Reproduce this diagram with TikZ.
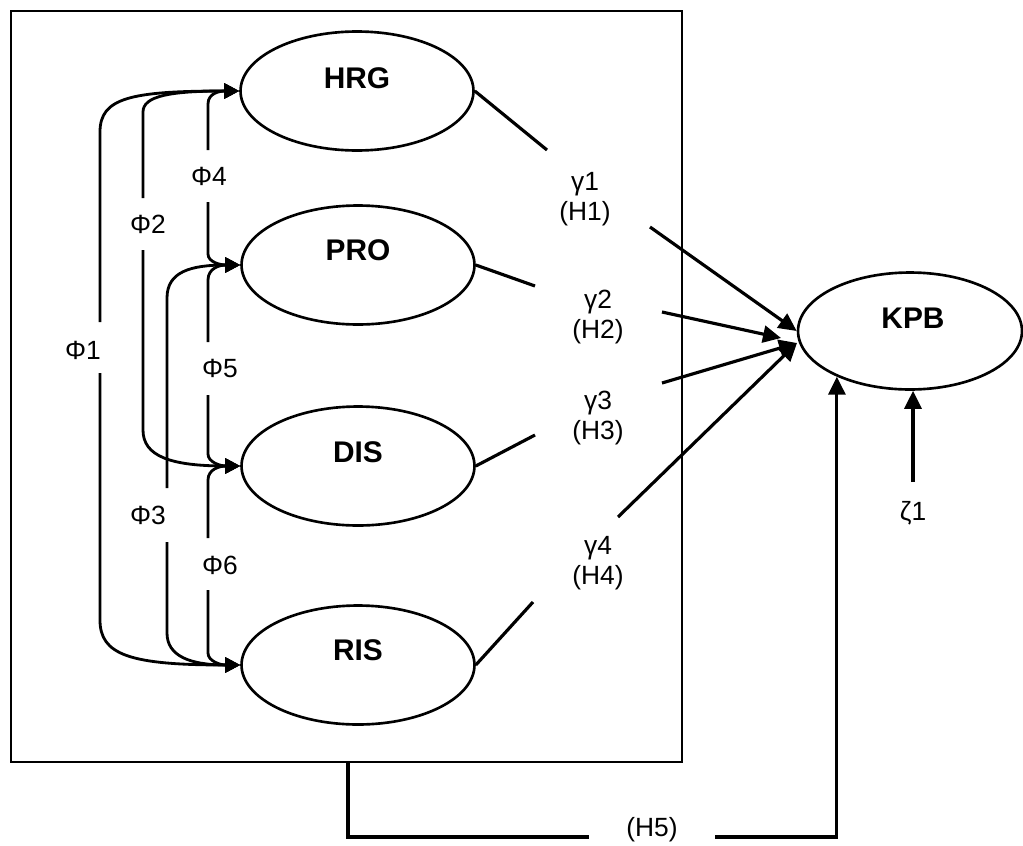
\documentclass[tikz,border=0pt]{standalone}
\usepackage{fontspec}
\setmainfont{Liberation Sans}
\usetikzlibrary{arrows.meta,shapes.geometric}

\tikzset{
	lv/.style={draw, ellipse, line width=1.5pt, minimum width=4.66cm, minimum height=2.38cm, inner sep=0pt},
	lvname/.style={font=\fontsize{17}{19}\selectfont\bfseries, inner sep=1pt},
	coef/.style={font=\fontsize{15}{17}\selectfont, align=center, inner sep=1pt},
	gline/.style={line width=1.8pt},
	garrow/.style={line width=1.8pt, -{Triangle[length=0.36cm,width=0.34cm]}},
	cov/.style={line width=1.6pt, {Triangle[length=0.3cm,width=0.3cm]}-}
}

\begin{document}
\begin{tikzpicture}[x=0.02cm, y=-0.02cm]
	\useasboundingbox (0,0) rectangle (1023,845);
	\draw[line width=1.2pt] (11,11) rectangle (682,762);

	\node[lv] (HRG) at (357,91) {};
	\node[lv] (PRO) at (358,265) {};
	\node[lv] (DIS) at (358,466) {};
	\node[lv] (RIS) at (358,665) {};
	\node[lv, minimum width=4.48cm, minimum height=2.34cm] (KPB) at (910,331) {};
	\node[lvname] (tHRG) at (357,78) {HRG};
	\node[lvname] (tPRO) at (358,250) {PRO};
	\node[lvname] (tDIS) at (358,452) {DIS};
	\node[lvname] (tRIS) at (358,650) {RIS};
	\node[lvname] (tKPB) at (913,318) {KPB};

	\draw[cov] (HRG.west) .. controls (130,91) and (100,98) .. (100,132) -- (100,322);
	\draw[cov] (RIS.west) .. controls (130,665) and (100,655) .. (100,620) -- (100,373);
	\draw[cov] (HRG.west) .. controls (170,91) and (143,96) .. (143,112) -- (143,198);
	\draw[cov] (DIS.west) .. controls (170,466) and (143,456) .. (143,430) -- (143,250);
	\draw[cov] (PRO.west) .. controls (190,265) and (167,272) .. (167,298) -- (167,488);
	\draw[cov] (RIS.west) .. controls (190,665) and (167,656) .. (167,633) -- (167,542);
	\draw[cov] (HRG.west) .. controls (220,91) and (208,93) .. (208,104) -- (208,150);
	\draw[cov] (PRO.west) .. controls (220,265) and (208,262) .. (208,254) -- (208,202);
	\draw[cov] (PRO.west) .. controls (220,265) and (208,268) .. (208,280) -- (208,342);
	\draw[cov] (DIS.west) .. controls (220,466) and (208,462) .. (208,454) -- (208,395);
	\draw[cov] (DIS.west) .. controls (220,466) and (208,469) .. (208,480) -- (208,538);
	\draw[cov] (RIS.west) .. controls (220,665) and (208,661) .. (208,653) -- (208,590);
	\node[coef] (p1) at (83,350) {Φ1};
	\node[coef] (p2) at (148,224) {Φ2};
	\node[coef] (p3) at (148,515) {Φ3};
	\node[coef] (p4) at (209,176) {Φ4};
	\node[coef] (p5) at (220,368) {Φ5};
	\node[coef] (p6) at (220,565) {Φ6};

	\coordinate (g1a) at (547,150);
	\coordinate (g1b) at (650,227);
	\coordinate (g2a) at (535,286);
	\coordinate (g2b) at (662,312);
	\coordinate (g3a) at (535,435);
	\coordinate (g3b) at (662,383);
	\coordinate (g4a) at (533,602);
	\coordinate (g4b) at (618,517);
	\coordinate (k2) at (781,338);
	\coordinate (k34) at (797,343);
	\node[coef] (c1) at (585,199) {γ1\\(H1)};
	\node[coef] (c2) at (598,317) {γ2\\(H2)};
	\node[coef] (c3) at (598,418) {γ3\\(H3)};
	\node[coef] (c4) at (598,563) {γ4\\(H4)};
	\draw[gline] (HRG.east) -- (g1a);
	\draw[gline] (PRO.east) -- (g2a);
	\draw[gline] (DIS.east) -- (g3a);
	\draw[gline] (RIS.east) -- (g4a);
	\draw[garrow] (g1b) -- (KPB.west);
	\draw[garrow] (g2b) -- (k2);
	\draw[garrow] (g3b) -- (k34);
	\draw[garrow] (g4b) -- (k34);

	\coordinate (h5a) at (348,762);
	\coordinate (h5b) at (715,837);
	\node[coef] (h5) at (652,830) {(H5)};
	\draw[gline] (h5a) -- (348,837) -- (589,837);
	\draw[garrow] (h5b) -| (KPB.212);

	\coordinate (zt) at (913,482);
	\node[coef] (zeta) at (913,513) {ζ1};
	\draw[garrow] (zt) -- (zt |- KPB.south);
\end{tikzpicture}
\end{document}
